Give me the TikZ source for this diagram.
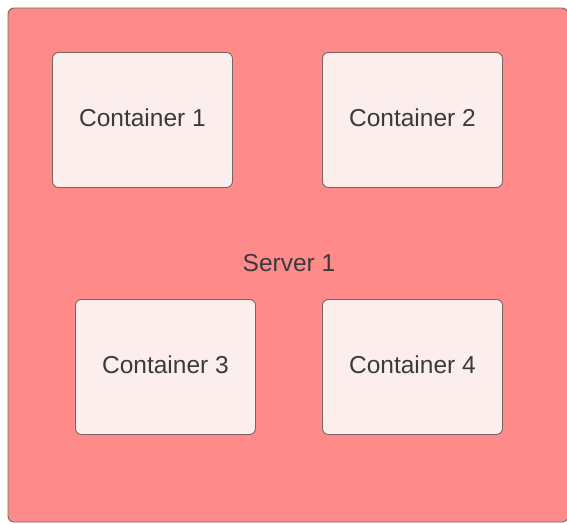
\documentclass[tikz,border=0pt]{standalone}
\usepackage{fontspec}
\setmainfont{Liberation Sans}
\definecolor{serverfill}{RGB}{255,138,138}
\definecolor{boxfill}{RGB}{253,238,238}
\definecolor{edge}{RGB}{120,100,100}
\definecolor{ink}{RGB}{58,58,62}
\begin{document}
\begin{tikzpicture}[x=1pt,y=-1pt,
  server/.style={draw=edge,line width=0.9pt,fill=serverfill,rounded corners=6pt},
  container/.style={draw=edge,line width=0.9pt,fill=boxfill,rounded corners=6pt,
    minimum width=180pt,minimum height=135pt,inner sep=0pt,anchor=north west},
  label/.style={text=ink,font=\fontsize{24.5}{28}\selectfont}]
  \useasboundingbox (0,0) rectangle (567,523);
  % server frame
  \draw[server] (8,8) rectangle (568,522);
  \node[label] (server) at (289,263) {Server 1};
  % containers, each with its caption a little above the centre
  \node[container] (c1) at (52,52) {};
  \node[container] (c2) at (322,52) {};
  \node[container] (c3) at (75,299) {};
  \node[container] (c4) at (322,299) {};
  \node[label] (t1) at ([yshift=2.5pt]c1.center) {Container 1};
  \node[label] (t2) at ([yshift=2.5pt]c2.center) {Container 2};
  \node[label] (t3) at ([yshift=2.5pt]c3.center) {Container 3};
  \node[label] (t4) at ([yshift=2.5pt]c4.center) {Container 4};
\end{tikzpicture}
\end{document}
